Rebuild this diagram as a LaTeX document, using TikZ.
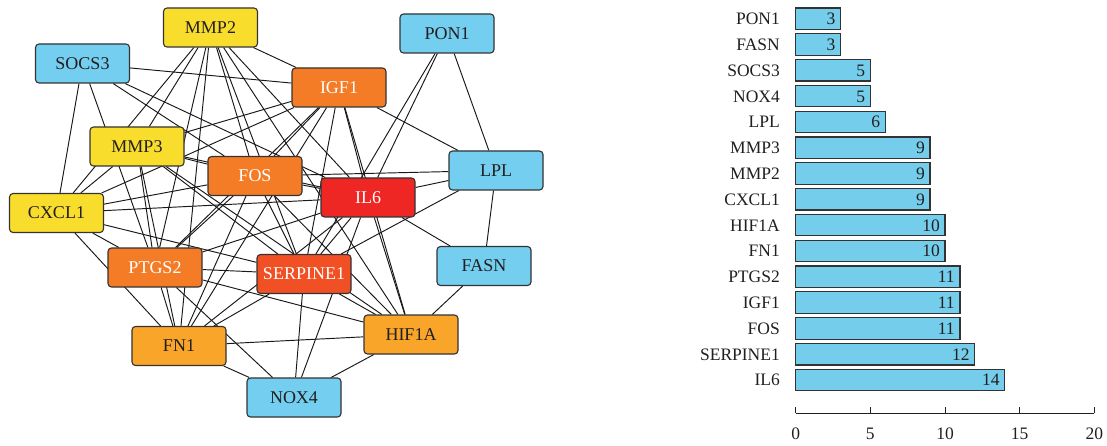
\documentclass[tikz,border=0pt]{standalone}
\usepackage{fontspec}
\setmainfont{Liberation Serif}
\usetikzlibrary{backgrounds}
\definecolor{cyel}{HTML}{F9DD2C}
\definecolor{cblue}{HTML}{74CEF0}
\definecolor{corg}{HTML}{F47C27}
\definecolor{cred}{HTML}{EE2624}
\definecolor{cserp}{HTML}{F05023}
\definecolor{camb}{HTML}{F8A52A}
\definecolor{cbar}{HTML}{74CDEA}
\definecolor{cline}{HTML}{333333}
\definecolor{ctext}{HTML}{231F20}
\begin{document}
\begin{tikzpicture}[x=1pt,y=-1pt,
  gene/.style={draw=cline, line width=1.1pt, rounded corners=3.5pt, minimum width=94pt, minimum height=39pt, inner sep=0pt, font=\fontsize{18}{20}\selectfont, text=ctext},
  yel/.style={gene, fill=cyel},
  blu/.style={gene, fill=cblue},
  org/.style={gene, fill=corg, text=white},
  rd/.style={gene, fill=cred, text=white},
  srp/.style={gene, fill=cserp, text=white},
  amb/.style={gene, fill=camb},
  edge/.style={draw=black!90, line width=0.95pt},
  barbox/.style={draw=cline, line width=1.2pt, fill=cbar},
  lab/.style={font=\fontsize{17.5}{20}\selectfont, text=ctext, inner sep=0pt},
  axisline/.style={draw=ctext, line width=1pt}]
\useasboundingbox (0,0) rectangle (1107,446);
% network nodes
\node[yel] (mmp2) at (210.5,27.5) {MMP2};
\node[blu] (socs3) at (82.5,63.5) {SOCS3};
\node[blu] (pon1) at (447,33.5) {PON1};
\node[org] (igf1) at (339,87.5) {IGF1};
\node[yel] (mmp3) at (137,146.5) {MMP3};
\node[org] (fos) at (255,176) {FOS};
\node[blu] (lpl) at (496,170.5) {LPL};
\node[rd] (il6) at (368,197.5) {IL6};
\node[yel] (cxcl1) at (56.5,213) {CXCL1};
\node[org] (ptgs2) at (155,267.5) {PTGS2};
\node[srp] (serp) at (304,274) {SERPINE1};
\node[blu] (fasn) at (484,266) {FASN};
\node[amb] (hif) at (411,334.5) {HIF1A};
\node[amb] (fn1) at (179,346) {FN1};
\node[blu] (nox4) at (294,397.5) {NOX4};
% edges
\begin{pgfonlayer}{background}
\fill[white] (0,0) rectangle (1107,446);
\foreach \b in {mmp2,socs3,pon1,igf1,mmp3,fos,lpl,cxcl1,ptgs2,serp,fasn,hif,fn1,nox4}
  \draw[edge] (il6) -- (\b);
\foreach \a/\b in {serp/fos,serp/igf1,serp/ptgs2,serp/fn1,serp/hif,serp/mmp2,serp/mmp3,
  fos/igf1,fos/ptgs2,fos/fn1,fos/hif,fos/mmp2,fos/mmp3,
  igf1/ptgs2,igf1/fn1,igf1/hif,igf1/mmp2,igf1/mmp3,
  ptgs2/fn1,ptgs2/hif,ptgs2/mmp2,ptgs2/mmp3,
  fn1/hif,fn1/mmp2,fn1/mmp3,
  hif/mmp2,hif/mmp3,mmp2/mmp3,
  nox4/serp,nox4/ptgs2,nox4/fn1,nox4/hif,
  pon1/serp,pon1/lpl,fasn/lpl,fasn/hif,
  lpl/igf1,lpl/fos,lpl/serp,
  cxcl1/mmp2,cxcl1/mmp3,cxcl1/socs3,cxcl1/igf1,cxcl1/fos,cxcl1/serp,cxcl1/ptgs2,cxcl1/fn1,
  socs3/igf1,socs3/ptgs2,socs3/fos}
  \draw[edge] (\a) -- (\b);
\end{pgfonlayer}
% bar chart
\foreach \lab/\val [count=\i from 0] in {PON1/3,FASN/3,SOCS3/5,NOX4/5,LPL/6,MMP3/9,MMP2/9,CXCL1/9,HIF1A/10,FN1/10,PTGS2/11,IGF1/11,FOS/11,SERPINE1/12,IL6/14} {
  \pgfmathsetmacro\yt{8+25.8*\i}
  \pgfmathsetmacro\xe{795.7+14.93*\val}
  \draw[barbox] (795.7,\yt) rectangle (\xe,\yt+21.5);
  \node[lab, anchor=east] (bl\i) at (780,\yt+11) {\lab};
  \node[lab, anchor=east] (bv\i) at (\xe-5,\yt+11) {\val};
}
\draw[axisline] (795.7,413) -- (1094,413);
\foreach \t in {0,5,10,15,20} {
  \draw[axisline] ({795.7+14.93*\t},413) -- ({795.7+14.93*\t},406.5);
  \node[lab] (tk\t) at ({795.7+14.93*\t},433.5) {\t};
}
\end{tikzpicture}
\end{document}
